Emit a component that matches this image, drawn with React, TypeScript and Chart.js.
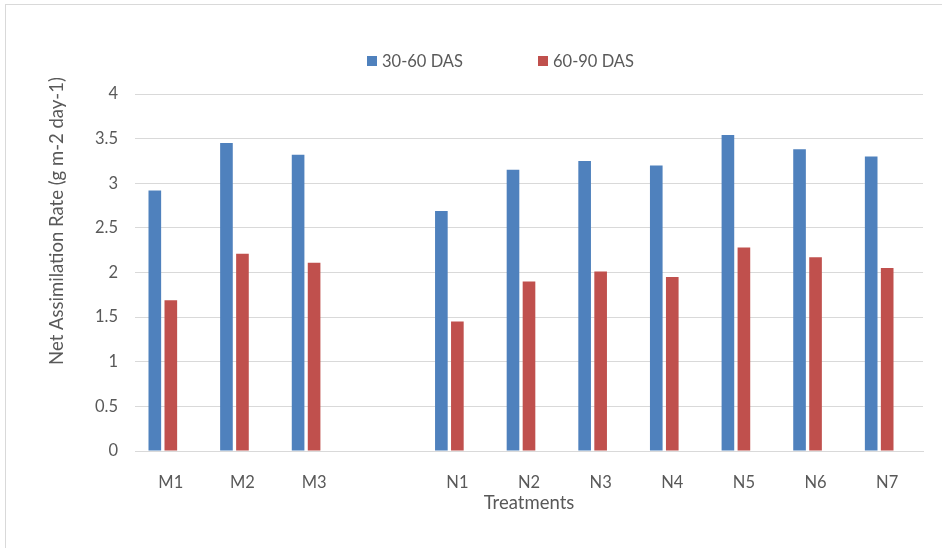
import React, { useEffect, useRef } from "react";
import { Chart, registerables } from "chart.js";

Chart.register(...registerables);

const categories = ["M1", "M2", "M3", "", "N1", "N2", "N3", "N4", "N5", "N6", "N7"];
const das3060 = [2.92, 3.45, 3.32, null, 2.69, 3.15, 3.25, 3.2, 3.54, 3.38, 3.3];
const das6090 = [1.69, 2.21, 2.11, null, 1.45, 1.9, 2.01, 1.95, 2.28, 2.17, 2.05];
const emptySeries = [null, null, null, null, null, null, null, null, null, null, null];
const seriesNames = ["30-60 DAS", "60-90 DAS"];
const yTitle = "Net Assimilation Rate (g m-2 day-1)";
const xTitle = "Treatments";

const BLUE = "#4F81BD";
const RED = "#C0504D";
const TEXT = "#595959";
const GRID = "#D9D9D9";
const FONT = "Lato, 'Open Sans', sans-serif";

const decorPlugin = {
  id: "decor",
  afterDraw(chart: any) {
    const ctx = chart.ctx;
    ctx.save();
    // legend
    ctx.font = `16.5px ${FONT}`;
    ctx.textBaseline = "middle";
    ctx.textAlign = "left";
    const items = [
      { x: 367, color: BLUE, label: seriesNames[0] },
      { x: 538, color: RED, label: seriesNames[1] },
    ];
    for (const it of items) {
      ctx.fillStyle = it.color;
      ctx.fillRect(it.x, 56, 10, 10);
      ctx.fillStyle = TEXT;
      ctx.fillText(it.label, it.x + 15, 61.5);
    }
    // y title
    ctx.translate(57, 221);
    ctx.rotate(-Math.PI / 2);
    ctx.font = `18.5px ${FONT}`;
    ctx.textAlign = "center";
    ctx.fillStyle = TEXT;
    ctx.fillText(yTitle, 0, 0);
    ctx.restore();
  },
};

export default function App() {
  const ref = useRef<HTMLCanvasElement>(null);
  useEffect(() => {
    if (!ref.current) return;
    const chart = new Chart(ref.current, {
      type: "bar",
      data: {
        labels: categories,
        datasets: [
          { label: seriesNames[0], data: das3060, backgroundColor: BLUE },
          { label: seriesNames[1], data: das6090, backgroundColor: RED },
          { label: "", data: emptySeries, backgroundColor: "rgba(0,0,0,0)" },
        ],
      },
      options: {
        responsive: false,
        animation: false,
        layout: { padding: { left: 80, right: 19, top: 94, bottom: 0 } },
        datasets: { bar: { categoryPercentage: 0.67, barPercentage: 0.79 } },
        plugins: {
          legend: { display: false },
          tooltip: { enabled: false },
          title: { display: false },
        },
        scales: {
          x: {
            grid: { display: false },
            border: { display: true, color: GRID, width: 1 },
            ticks: { color: TEXT, font: { family: FONT, size: 16.5 }, padding: 14 },
            title: {
              display: true,
              text: xTitle,
              color: TEXT,
              font: { family: FONT, size: 18.5 },
              padding: { top: 6, bottom: 34 },
            },
            afterFit: (scale: any) => {
              scale.height = 97;
            },
          },
          y: {
            min: 0,
            max: 4,
            ticks: {
              stepSize: 0.5,
              color: TEXT,
              font: { family: FONT, size: 16.5 },
              padding: 17,
              callback: (v: any) => String(v),
            },
            grid: { color: GRID, drawTicks: false, lineWidth: 1 },
            border: { display: false },
            afterFit: (scale: any) => {
              scale.width = 55;
            },
          },
        },
      },
      plugins: [decorPlugin],
    });
    return () => chart.destroy();
  }, []);
  return (
    <div style={{ position: "fixed", left: 0, top: 0, width: 942, height: 548, background: "#fff", overflow: "hidden" }}>
      <div
        style={{
          position: "absolute",
          left: 5,
          top: 4,
          width: 960,
          height: 600,
          border: `1px solid ${GRID}`,
          boxSizing: "border-box",
        }}
      />
      <canvas ref={ref} width={942} height={548} style={{ position: "absolute", left: 0, top: 0 }} />
    </div>
  );
}
